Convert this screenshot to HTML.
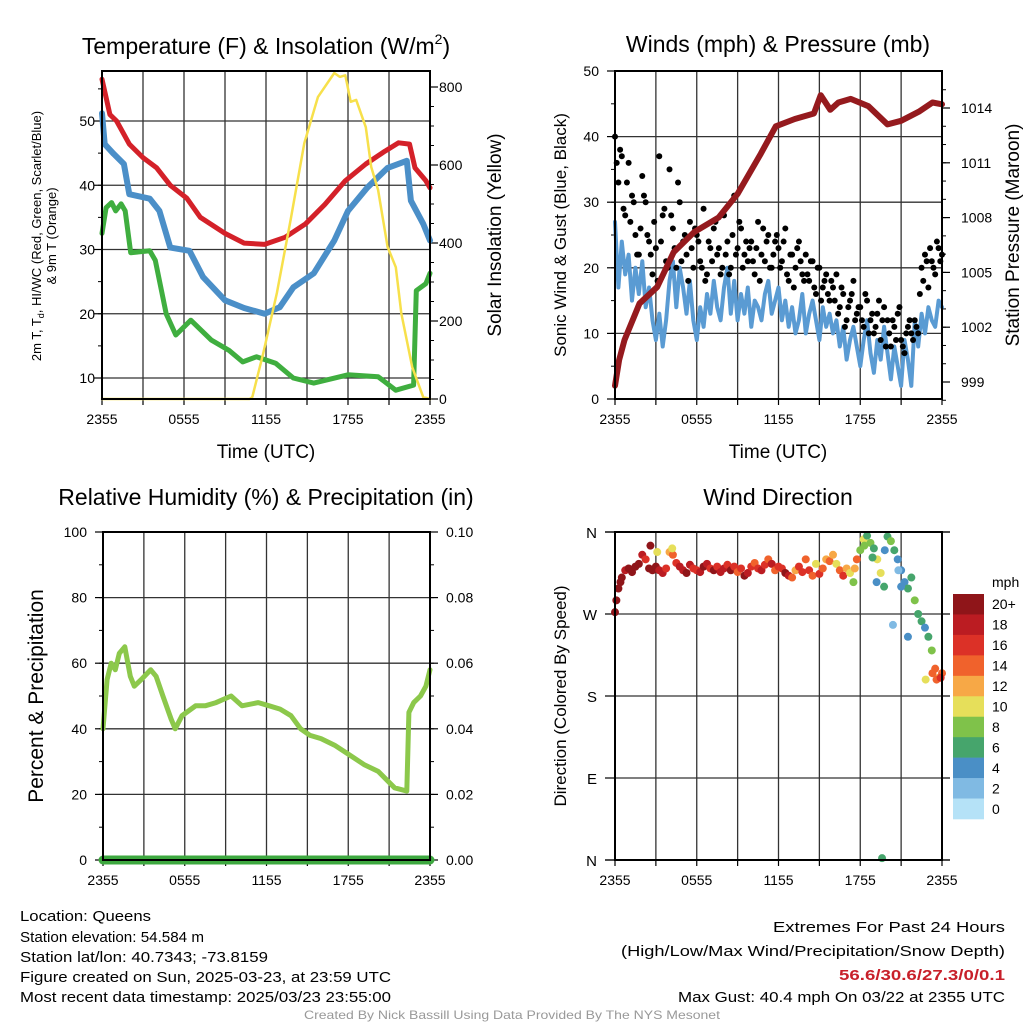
<!DOCTYPE html>
<html><head><meta charset="utf-8"><style>
html,body{margin:0;padding:0;background:#fff}
svg{display:block;font-family:"Liberation Sans",sans-serif}
</style></head><body>
<svg id="root" width="1024" height="1024" viewBox="0 0 1024 1024" xmlns="http://www.w3.org/2000/svg">
<rect width="1024" height="1024" fill="#fff"/>
<g id="texts" fill="#000">
<text x="266" y="54" font-size="23" text-anchor="middle">Temperature (F) &amp; Insolation (W/m<tspan font-size="14" dy="-10">2</tspan><tspan dy="10">)</tspan></text>
<text x="778" y="52" font-size="23" text-anchor="middle">Winds (mph) &amp; Pressure (mb)</text>
<text x="266" y="505" font-size="23" text-anchor="middle">Relative Humidity (%) &amp; Precipitation (in)</text>
<text x="778" y="505" font-size="23" text-anchor="middle">Wind Direction</text>
<text x="266" y="458" font-size="19" text-anchor="middle">Time (UTC)</text>
<text x="778" y="458" font-size="19" text-anchor="middle">Time (UTC)</text>
<g transform="translate(41,236) rotate(-90)" font-size="13" text-anchor="middle">
<text x="0" y="0">2m T, T<tspan font-size="9" dy="3">d</tspan><tspan dy="-3">, HI/WC (Red, Green, Scarlet/Blue)</tspan></text>
<text x="0" y="15">&amp; 9m T (Orange)</text></g>
<text transform="translate(501,235) rotate(-90)" font-size="19" text-anchor="middle">Solar Insolation (Yellow)</text>
<text transform="translate(566,235) rotate(-90)" font-size="17" text-anchor="middle">Sonic Wind &amp; Gust (Blue, Black)</text>
<text transform="translate(1019,235) rotate(-90)" font-size="19" text-anchor="middle">Station Pressure (Maroon)</text>
<text transform="translate(43,696) rotate(-90)" font-size="21" text-anchor="middle">Percent &amp; Precipitation</text>
<text transform="translate(566,696) rotate(-90)" font-size="17" text-anchor="middle">Direction (Colored By Speed)</text>
<text x="992" y="587" font-size="14">mph</text>
<g font-size="15">
<text x="20" y="921" textLength="131" lengthAdjust="spacingAndGlyphs">Location: Queens</text>
<text x="20" y="942" textLength="184" lengthAdjust="spacingAndGlyphs">Station elevation: 54.584 m</text>
<text x="20" y="962" textLength="248" lengthAdjust="spacingAndGlyphs">Station lat/lon: 40.7343; -73.8159</text>
<text x="20" y="982" textLength="371" lengthAdjust="spacingAndGlyphs">Figure created on Sun, 2025-03-23, at 23:59 UTC</text>
<text x="20" y="1002" textLength="371" lengthAdjust="spacingAndGlyphs">Most recent data timestamp: 2025/03/23 23:55:00</text>
</g>
<g font-size="15">
<text x="773" y="932" textLength="232" lengthAdjust="spacingAndGlyphs">Extremes For Past 24 Hours</text>
<text x="621" y="956" textLength="384" lengthAdjust="spacingAndGlyphs">(High/Low/Max Wind/Precipitation/Snow Depth)</text>
<text x="839" y="980" textLength="166" lengthAdjust="spacingAndGlyphs" fill="#c8202a" font-weight="bold">56.6/30.6/27.3/0/0.1</text>
<text x="678" y="1002" textLength="327" lengthAdjust="spacingAndGlyphs">Max Gust: 40.4 mph On 03/22 at 2355 UTC</text>
</g>
<text x="304" y="1019" font-size="12" fill="#999" textLength="416" lengthAdjust="spacingAndGlyphs">Created By Nick Bassill Using Data Provided By The NYS Mesonet</text>
</g>
</svg>
<script>
// ---------- Data ----------
var tempT = [0,0.58,1.07,2.0,3.0,4.0,5.0,6.2,7.2,9.0,10.4,11.9,13.4,14.9,16.3,17.8,19.3,20.7,21.7,22.5,22.9,23.7,24];
var tempRed = [56.5,51,50,46.4,44.3,42.7,40,38,35,32.5,31,30.8,31.9,34,37,40.7,43.3,45.3,46.6,46.4,42.7,40.7,39.6];
var blueT = [0,0.2,0.85,1.6,2.0,3.5,4.2,5.0,6.4,7.4,9.0,10.4,11.9,13.0,14.0,15.5,17.0,18.0,19.4,20.9,22.3,22.6,23.5,24];
var tempBlue = [51.2,46.4,44.9,43.3,38.6,37.9,36,30.3,29.8,25.7,22.1,20.9,20,21,24.1,26.3,31.4,36,39.6,42.7,43.8,37.6,34,31.4];
var greenT = [0,0.3,0.7,1.0,1.4,1.7,2.1,3.5,3.9,4.7,5.4,6.5,8.0,9.3,10.3,11.3,12.7,14.0,15.5,18.0,20.2,21.5,22.8,23.0,23.7,24];
var tempGreen = [32.5,36.5,37.3,36,37.1,36,29.5,29.8,28.3,20,16.7,19,15.9,14.3,12.5,13.3,12.3,10,9.2,10.5,10.2,8.1,8.9,23.6,24.7,26.3];
var solarT = [0,10.8,11.0,11.8,12.8,13.8,14.8,15.8,17.0,17.4,17.8,18.2,18.6,19.3,19.7,20.2,20.9,21.5,21.9,22.7,23.5,24];
var solar = [0,0,5,118,272,459,656,774,836,826,830,762,767,697,595,536,390,338,220,82,5,0];
var presT = [0,0.3,0.7,1.8,3.1,4.3,5.8,7.6,9.0,10.7,11.8,13.2,14.6,15.1,15.8,16.4,17.3,18.6,20.0,21.0,22.3,23.3,24];
var pressure = [998.8,1000.2,1001.3,1003.3,1004.2,1006.1,1007.2,1008,1009.3,1011.5,1013,1013.4,1013.7,1014.7,1013.9,1014.3,1014.5,1014.1,1013.1,1013.3,1013.8,1014.3,1014.2];
var sonic = [27,17,24,19,22,15,20,16, 21,14,17,12,9,13,8,12, 18,21,14,20,17,13,18,12, 9,14,11,16,13,18,14,12, 17,20,13,18,12,16,13,17, 11,15,14,12,16,18,13,15, 17,12,15,11,14,10,12,16, 10,13,15,12,9,14,11,13, 10,12,8,11,6,9,11,8, 5,9,12,7,4,9,6,11, 7,3,8,5,2,9,6,2, 12,8,13,10,14,12,11,15,14];
var gust = [40,33,37,28,36,31,25,22, 34,30,24,19,23,37,28,21, 35,26,20,30,24,22,27,20, 25,21,29,19,23,26,22,19, 28,24,20,31,23,26,22,21, 24,19,27,22,21,25,20,24, 23,21,26,18,22,20,24,19, 22,18,21,16,20,17,19,15, 17,19,14,16,12,15,18,13, 14,11,15,12,10,13,9,14, 12,8,11,13,9,7,11,10, 12,10,20,22,17,21,19,23,22];
var gust2 = [36,38,29,33,27,30,22,26, 31,25,22,27,18,24,29,20, 28,23,33,21,25,18,23,26, 24,20,18,24,21,27,23,20, 22,19,25,22,27,20,24,23, 21,23,18,26,24,20,22,25, 20,24,19,22,17,23,21,18, 19,21,17,20,15,18,16,18, 15,13,17,11,14,16,12,14, 12,16,10,13,11,15,12,8, 10,12,9,14,8,10,12,9, 11,16,18,21,23,20,24,21];
var rhT = [0,0.3,0.6,0.9,1.2,1.6,2.0,2.3,2.8,3.5,3.9,4.4,5.0,5.3,5.8,6.8,7.5,8.3,9.4,10.2,11.4,12.2,13.0,13.8,14.5,15.2,16.0,17.0,18.1,19.2,20.2,21.4,22.3,22.45,22.8,23.3,23.7,24];
var rh = [40,55,60,58,63,65,56,53,55,58,56,50,43,40,44,47,47,48,50,47,48,47,46,44,40,38,37,35,32,29,27,22,21,45,48,50,53,58];
var precip = [0,0];
var precipT = [0,24];
var dirDeg = [272,298,310,318,320,316,322,325, 335,330,320,318,322,318,315,320, 338,335,326,322,318,315,324,320, 318,316,322,325,320,318,322,316, 320,324,318,322,316,320,312,315, 322,326,320,318,324,330,325,318, 322,320,315,312,310,318,322,316, 330,318,312,325,314,320,330,328, 335,325,318,312,320,315,305,330, 340,352,356,348,342,330,315,300, 355,350,340,330,318,305,298,310, 285,270,262,255,245,230,210,200,205];
var dirSpeed = [20,20,20,19,20,21,20,20, 18,17,20,21,20,19,18,17, 13,14,16,18,19,20,18,16, 17,19,20,18,17,20,16,18, 18,17,20,16,14,17,20,18, 16,15,17,19,16,14,18,15, 17,16,20,18,15,13,16,17, 14,17,15,11,17,15,13,14, 13,10,15,17,12,11,9,15, 8,10,6,9,7,11,10,6, 7,8,6,5,5,4,6,7, 8,7,6,5,6,8,14,13,15];
var extraDirT = [19.6,20.4,21.5,19.2,19.8,20.8,21.0,22.8,23.3,23.6,23.9,0.1,0.4,2.6,3.1,4.2,17.6,18.3,18.9];
var extraDir = [2,258,245,305,340,318,300,198,205,198,200,285,305,345,338,342,320,345,332];
var extraSpeed = [6,3,4,4,5,3,4,11,14,15,16,21,20,20,10,11,12,9,7];
var speedColors = ['#b5e2f7','#80bae3','#4a8fc6','#46a56c','#7fc24a','#e6df5a','#f7a846','#f0622c','#dc3127','#bb1c22','#8f1519'];
var speedLabels = ['0','2','4','6','8','10','12','14','16','18','20+'];
var tempTicks = [10,20,30,40,50];
var solarTicks = [0,200,400,600,800];
var windTicks = [0,10,20,30,40,50];
var presTicks = [999,1002,1005,1008,1011,1014];
var rhTicks = [0,20,40,60,80,100];
var precipTicks = ['0.00','0.02','0.04','0.06','0.08','0.10'];
var dirTicks = [0,90,180,270,360];
var dirLabels = ['N','E','S','W','N'];
var timeLabels = ['2355','0555','1155','1755','2355'];

// ---------- Helpers ----------
var NS='http://www.w3.org/2000/svg';
var root=document.getElementById('root');
function mk(tag,parent){var e=document.createElementNS(NS,tag);(parent||root).appendChild(e);return e;}
function lin(d0,d1,r0,r1){return function(v){return r0+(v-d0)/(d1-d0)*(r1-r0);};}
function pathD(xa,ya,xf,yf){var s='';for(var i=0;i<xa.length;i++){s+=(i?'L':'M')+xf(xa[i]).toFixed(1)+','+yf(ya[i]).toFixed(1);}return s;}
function line(g,d,color,w){var p=mk('path',g);p.setAttribute('d',d);p.setAttribute('fill','none');p.setAttribute('stroke',color);p.setAttribute('stroke-width',w);p.setAttribute('stroke-linejoin','round');p.setAttribute('stroke-linecap','round');return p;}
function seg(g,x1,y1,x2,y2,c,w){var l=mk('line',g);l.setAttribute('x1',x1);l.setAttribute('y1',y1);l.setAttribute('x2',x2);l.setAttribute('y2',y2);l.setAttribute('stroke',c);l.setAttribute('stroke-width',w);return l;}
function txt(g,x,y,s,anchor,size){var t=mk('text',g);t.setAttribute('x',x);t.setAttribute('y',y);t.setAttribute('font-size',size||14);t.setAttribute('text-anchor',anchor||'middle');t.textContent=s;return t;}

function frame(name,L,R,T,B){
  var g=mk('g');
  
  
  var grid=mk('g',g);
  
  
  for(var i=1;i<8;i++){var x=L+(R-L)*i/8;seg(grid,x,T,x,B,'#333',1.3);}
  for(var i=0;i<=8;i++){var x=L+(R-L)*i/8;seg(grid,x,B,x,B+6,'#000',1.2);}
  var xl=mk('g',g);
  
  
  for(var i=0;i<timeLabels.length;i++){txt(xl,L+(R-L)*i/4,B+25,timeLabels[i],'middle',14);}
  return g;
}
function border(g,L,R,T,B){var r=mk('rect',g);r.setAttribute('x',L);r.setAttribute('y',T);r.setAttribute('width',R-L);r.setAttribute('height',B-T);r.setAttribute('fill','none');r.setAttribute('stroke','#000');r.setAttribute('stroke-width',2);}
function hgrid(g,L,R,y,last){if(!last)seg(g,L,y,R,y,'#333',1.3);}

// ---------- Panel 1 ----------
(function(){
  var L=102,R=430,T=71,B=399;
  var g=frame('temperature-panel',L,R,T,B);
  var x=lin(0,24,L,R), y=lin(10,50,378,121), ys=lin(0,800,399,87);
  tempTicks.forEach(function(v){seg(g,L,y(v),R,y(v),'#333',1.3);seg(g,L-8,y(v),L,y(v),'#000',1.2);txt(g,L-7,y(v)+5,String(v),'end',14);});
  for(var v=10;v<=55;v+=5){seg(g,L-4,y(v),L,y(v),'#000',1);}
  solarTicks.forEach(function(v){seg(g,R,ys(v),R+8,ys(v),'#000',1.2);txt(g,R+9,ys(v)+5,String(v),'start',14);});
  for(var v=0;v<=800;v+=50){seg(g,R,ys(v),R+4,ys(v),'#000',1);}
  var s=line(g,pathD(greenT,tempGreen,x,y),'#3fae3f',5);
  
  
  s=line(g,pathD(blueT,tempBlue,x,y),'#4b8fc8',6);
  
  
  s=line(g,pathD(tempT,tempRed,x,y),'#d42129',5);
  
  
  s=line(g,pathD(solarT,solar,x,ys),'#f7e04b',2.5);
  
  
  border(g,L,R,T,B);
})();

// ---------- Panel 2 ----------
(function(){
  var L=615,R=942,T=71,B=399;
  var g=frame('winds-panel',L,R,T,B);
  var x=lin(0,24,L,R), y=lin(0,50,399,71), yp=lin(999,1014,382,108);
  windTicks.forEach(function(v){seg(g,L,y(v),R,y(v),'#333',1.3);seg(g,L-8,y(v),L,y(v),'#000',1.2);txt(g,L-16,y(v)+5,String(v),'end',14);});
  for(var v=0;v<=50;v+=5){seg(g,L-4,y(v),L,y(v),'#000',1);}
  presTicks.forEach(function(v){seg(g,R,yp(v),R+8,yp(v),'#000',1.2);txt(g,R+19,yp(v)+5,String(v),'start',14);});
  for(var v=998;v<=1015;v++){seg(g,R,yp(v),R+4,yp(v),'#000',1);}
  var ti=sonic.map(function(_,i){return i*0.25;});
  var s=line(g,pathD(ti,sonic,x,y),'#5a9bd3',4);
  
  
  var dg=mk('g',g);
  
  
  gust.forEach(function(v,i){var c=mk('circle',dg);c.setAttribute('cx',x(i*0.25));c.setAttribute('cy',y(v));c.setAttribute('r',3);c.setAttribute('fill','#000');});
  gust2.forEach(function(v,i){var c=mk('circle',dg);c.setAttribute('cx',x(i*0.25+0.125));c.setAttribute('cy',y(v));c.setAttribute('r',3);c.setAttribute('fill','#000');});
  s=line(g,pathD(presT,pressure,x,yp),'#951a1e',6);
  
  
  border(g,L,R,T,B);
})();

// ---------- Panel 3 ----------
(function(){
  var L=103,R=430,T=532,B=860;
  var g=frame('humidity-panel',L,R,T,B);
  var x=lin(0,24,L,R), y=lin(0,100,860,532);
  rhTicks.forEach(function(v,i){if(v>0&&v<100)seg(g,L,y(v),R,y(v),'#333',1.3);seg(g,L-8,y(v),L,y(v),'#000',1.2);txt(g,L-16,y(v)+5,String(v),'end',14);
    seg(g,R,y(v),R+8,y(v),'#000',1.2);txt(g,R+16,y(v)+5,precipTicks[i],'start',14);});
  for(var v=0;v<=100;v+=10){seg(g,L-4,y(v),L,y(v),'#000',1);seg(g,R,y(v),R+4,y(v),'#000',1);}
  var s=line(g,pathD(rhT,rh,x,y),'#8cc84b',5);
  
  
  var yq=lin(0,0.1,860,532);
  s=line(g,pathD(precipT,precip,x,yq),'#3da83f',9);
  
  
  border(g,L,R,T,B);
})();

// ---------- Panel 4 ----------
(function(){
  var L=615,R=942,T=532,B=860;
  var g=frame('wind-direction-panel',L,R,T,B);
  var x=lin(0,24,L,R), y=lin(0,360,860,532);
  dirTicks.forEach(function(v,i){if(v>0&&v<360)seg(g,L,y(v),R,y(v),'#333',1.3);seg(g,L-10,y(v),R+8,y(v),'#000',v>0&&v<360?0:1.2);txt(g,L-18,y(v)+6,dirLabels[i],'end',15);});
  dirTicks.forEach(function(v){seg(g,L-10,y(v),L,y(v),'#000',1.2);seg(g,R,y(v),R+8,y(v),'#000',1.2);});
  var pg=mk('g',g);
  
  
  function col(sp){var b=Math.floor(sp/2);if(b>10)b=10;if(b<0)b=0;return speedColors[b];}
  dirDeg.forEach(function(d,i){var c=mk('circle',pg);c.setAttribute('cx',x(i*0.25));c.setAttribute('cy',y(d));c.setAttribute('r',4);c.setAttribute('fill',col(dirSpeed[i]));});
  extraDir.forEach(function(d,i){var c=mk('circle',pg);c.setAttribute('cx',x(extraDirT[i]));c.setAttribute('cy',y(d));c.setAttribute('r',4);c.setAttribute('fill',col(extraSpeed[i]));});
  border(g,L,R,T,B);
  var cb=mk('g');
  
  
  var top=594,h=225/11;
  for(var k=0;k<11;k++){var idx=10-k;var r=mk('rect',cb);r.setAttribute('x',953);r.setAttribute('y',top+k*h);r.setAttribute('width',31);r.setAttribute('height',h+0.3);r.setAttribute('fill',speedColors[idx]);
    txt(cb,992,top+k*h+h/2+5,speedLabels[idx],'start',14);}
})();
</script>
</body></html>
